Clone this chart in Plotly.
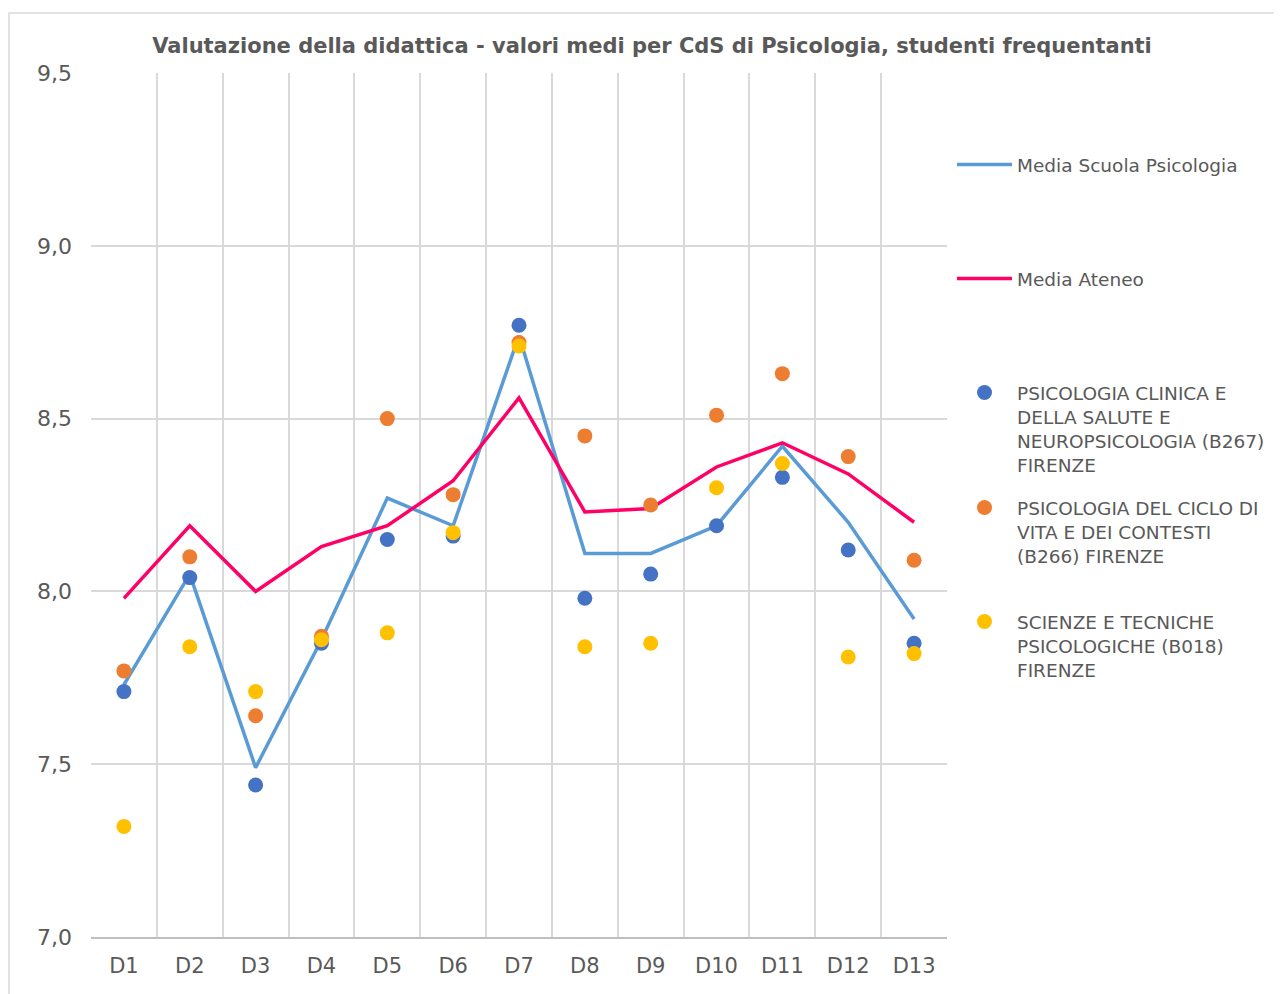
import plotly.graph_objects as go

categories = ["D1", "D2", "D3", "D4", "D5", "D6", "D7", "D8", "D9", "D10", "D11", "D12", "D13"]
media_scuola = [7.73, 8.05, 7.49, 7.86, 8.27, 8.19, 8.74, 8.11, 8.11, 8.19, 8.42, 8.20, 7.92]
media_ateneo = [7.98, 8.19, 8.00, 8.13, 8.19, 8.32, 8.56, 8.23, 8.24, 8.36, 8.43, 8.34, 8.20]
b267 = [7.71, 8.04, 7.44, 7.85, 8.15, 8.16, 8.77, 7.98, 8.05, 8.19, 8.33, 8.12, 7.85]
b266 = [7.77, 8.10, 7.64, 7.87, 8.50, 8.28, 8.72, 8.45, 8.25, 8.51, 8.63, 8.39, 8.09]
b018 = [7.32, 7.84, 7.71, 7.86, 7.88, 8.17, 8.71, 7.84, 7.85, 8.30, 8.37, 7.81, 7.82]

names = [
    "Media Scuola Psicologia",
    "Media Ateneo",
    "PSICOLOGIA CLINICA E<br>DELLA SALUTE E<br>NEUROPSICOLOGIA (B267)<br>FIRENZE",
    "PSICOLOGIA DEL CICLO DI<br>VITA E DEI CONTESTI<br>(B266) FIRENZE",
    "SCIENZE E TECNICHE<br>PSICOLOGICHE (B018)<br>FIRENZE",
]

FONT = "DejaVu Sans"
TXT = "#595959"

O = 8  # page body margin offset
W, H = 1282 - O, 994 - O
# target positions in screenshot pixels
PL, PR, PT, PB = 91, 947, 73, 937
L, R, T, B = PL - O, W - (PR - O), PT - O, H - (PB - O)
PW, PH = W - L - R, H - T - B

def px(x):
    return (x - O - L) / PW

def py(y):
    return (H - B - (y - O)) / PH

fig = go.Figure()
fig.add_trace(go.Scatter(x=categories, y=media_scuola, mode="lines", name=names[0],
                         line=dict(color="#5B9BD5", width=3.5), legend="legend"))
fig.add_trace(go.Scatter(x=categories, y=media_ateneo, mode="lines", name=names[1],
                         line=dict(color="#FF0066", width=3.5), legend="legend2"))
fig.add_trace(go.Scatter(x=categories, y=b267, mode="markers", name=names[2],
                         marker=dict(color="#4472C4", size=15), legend="legend3"))
fig.add_trace(go.Scatter(x=categories, y=b266, mode="markers", name=names[3],
                         marker=dict(color="#ED7D31", size=15), legend="legend4"))
fig.add_trace(go.Scatter(x=categories, y=b018, mode="markers", name=names[4],
                         marker=dict(color="#FFC000", size=15), legend="legend5"))

leg_font = dict(family=FONT, size=18.5, color=TXT)
def leg(ytop):
    return dict(x=px(952), y=py(ytop), xanchor="left", yanchor="top", font=leg_font,
                bgcolor="rgba(0,0,0,0)", itemwidth=55, valign="top", tracegroupgap=0)

fig.update_layout(
    width=W, height=H,
    margin=dict(l=L, r=R, t=T, b=B),
    paper_bgcolor="white", plot_bgcolor="white",
    separators=",.",
    title=dict(text="<b>Valutazione della didattica - valori medi per CdS di Psicologia, studenti frequentanti</b>",
               xref="container", x=(652 - O) / W, xanchor="center",
               yref="container", y=1 - (46 - O) / H, yanchor="middle",
               font=dict(family=FONT, size=21, color=TXT)),
    showlegend=True,
    legend=leg(146),
    legend2=leg(260),
    legend3=leg(374),
    legend4=leg(489),
    legend5=leg(603),
    xaxis=dict(type="category", tickson="boundaries", showgrid=True, gridcolor="#D9D9D9", gridwidth=2,
               range=[-0.5, 12.5], showline=True, linecolor="#BFBFBF", linewidth=2, mirror=False,
               ticks="", tickfont=dict(family=FONT, size=21, color=TXT), ticklabelstandoff=9,
               fixedrange=True),
    yaxis=dict(range=[7, 9.5], dtick=0.5, tickformat=".1f", showgrid=True, gridcolor="#D9D9D9", gridwidth=2,
               zeroline=False, showline=False, ticks="", tickfont=dict(family=FONT, size=22, color=TXT),
               ticklabelstandoff=18, fixedrange=True),
    shapes=[dict(type="rect", xref="paper", yref="paper", x0=px(9), y0=py(1100), x1=px(1400), y1=py(13),
                 line=dict(color="#D9D9D9", width=1.5), fillcolor="rgba(0,0,0,0)", layer="below")],
)

fig.write_html("out.html")
